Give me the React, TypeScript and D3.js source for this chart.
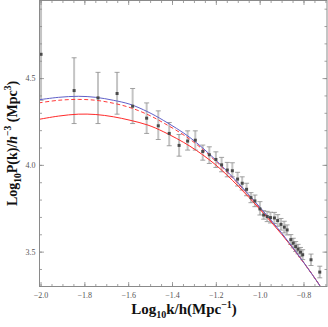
import React from 'react';
import * as d3 from 'd3';

// measured points: log10 k, log10 P, lower and upper end of the error bar
const pkX = [-2.0, -1.849, -1.74, -1.653, -1.582, -1.518, -1.465, -1.415, -1.37, -1.331, -1.296, -1.262, -1.232, -1.202, -1.176, -1.15, -1.127, -1.103, -1.082, -1.062, -1.042, -1.024, -1.001, -0.984, -0.968, -0.953, -0.935, -0.92, -0.905, -0.89, -0.877, -0.86, -0.849, -0.838, -0.827, -0.816, -0.806, -0.768, -0.728];
const pkY = [4.64, 4.431, 4.389, 4.414, 4.341, 4.272, 4.228, 4.184, 4.115, 4.14, 4.145, 4.08, 4.061, 4.034, 4.003, 3.973, 3.969, 3.921, 3.897, 3.862, 3.814, 3.795, 3.749, 3.714, 3.705, 3.699, 3.697, 3.682, 3.66, 3.644, 3.628, 3.572, 3.552, 3.532, 3.517, 3.5, 3.485, 3.456, 3.385];
const pkLo = [4.375, 4.241, 4.241, 4.295, 4.241, 4.184, 4.149, 4.113, 4.053, 4.088, 4.088, 4.03, 4.011, 3.988, 3.963, 3.934, 3.934, 3.881, 3.858, 3.825, 3.785, 3.762, 3.714, 3.69, 3.676, 3.668, 3.665, 3.649, 3.627, 3.611, 3.599, 3.544, 3.525, 3.504, 3.49, 3.474, 3.457, 3.423, 3.352];
const pkHi = [5.1, 4.62, 4.536, 4.536, 4.443, 4.36, 4.314, 4.247, 4.178, 4.199, 4.199, 4.117, 4.107, 4.078, 4.046, 4.017, 4.015, 3.96, 3.934, 3.897, 3.843, 3.829, 3.791, 3.739, 3.735, 3.73, 3.729, 3.716, 3.694, 3.678, 3.657, 3.601, 3.58, 3.561, 3.545, 3.527, 3.514, 3.489, 3.419];

// model curves
const curveX = [-2.01, -1.92, -1.83, -1.75, -1.67, -1.594, -1.512, -1.44, -1.32, -1.206, -1.1, -1.0, -0.9, -0.808, -0.724, -0.69];
const blueY = [4.378, 4.392, 4.398, 4.392, 4.375, 4.352, 4.308, 4.258, 4.16, 4.035, 3.898, 3.757, 3.607, 3.452, 3.3, 3.23];
const dashY = [4.36, 4.375, 4.38, 4.375, 4.358, 4.333, 4.292, 4.244, 4.15, 4.028, 3.893, 3.753, 3.604, 3.45, 3.3, 3.23];
const redY = [4.265, 4.284, 4.295, 4.293, 4.28, 4.26, 4.232, 4.193, 4.11, 4.006, 3.88, 3.745, 3.6, 3.452, 3.3, 3.23];

const xTicks = [-2.0, -1.8, -1.6, -1.4, -1.2, -1.0, -0.8];
const yTicks = [3.5, 4.0, 4.5];

const W = 328, H = 327;
const L = 39.5, R = 327, T = 0.5, B = 286.5;

const fmt = (v: number) => (v < 0 ? '\u2212' : '') + Math.abs(v).toFixed(1);

export default function App() {
  const x = d3.scaleLinear().domain([-2.007, -0.695]).range([L, R]);
  const y = d3.scaleLinear().domain([3.302, 4.95]).range([B, T]);

  const line = (ys: number[]) =>
    d3.line<number>()
      .x((_, i) => x(curveX[i]))
      .y((d) => y(d))
      .curve(d3.curveCatmullRom)(ys) || '';

  const xMinor = d3.range(-2.0, -0.69, 0.05).filter((v) => x(v) <= R);
  const yMinor = d3.range(3.4, 4.95, 0.1);
  const frame = '#8a8a8a';
  const serif = '"Liberation Serif", "DejaVu Serif", serif';

  return (
    <svg width={W} height={H} style={{ position: 'absolute', left: 0, top: 0 }} fontFamily={serif}>
      <defs>
        <clipPath id="plot">
          <rect x={L} y={T} width={R - L} height={B - T} />
        </clipPath>
      </defs>
      <rect x={0} y={0} width={W} height={H} fill="#fff" />

      <g clipPath="url(#plot)">
        {pkX.map((v, i) => (
          <line key={'e' + i} x1={x(v)} x2={x(v)} y1={y(pkLo[i])} y2={y(pkHi[i])} stroke="#c4c4c4" strokeWidth={2} />
        ))}
        {pkX.map((v, i) => (
          <g key={'c' + i} stroke="#8c8c8c" strokeWidth={0.8}>
            <line x1={x(v) - 2.5} x2={x(v) + 2.5} y1={y(pkLo[i])} y2={y(pkLo[i])} />
            <line x1={x(v) - 2.5} x2={x(v) + 2.5} y1={y(pkHi[i])} y2={y(pkHi[i])} />
          </g>
        ))}
        <path d={line(redY)} fill="none" stroke="#ff2a2a" strokeWidth={1} />
        <path d={line(dashY)} fill="none" stroke="#ff3a3a" strokeWidth={1} strokeDasharray="4,2.5" />
        <path d={line(blueY)} fill="none" stroke="#6060c8" strokeWidth={1} />
        {pkX.map((v, i) => (
          <rect key={'p' + i} x={x(v) - 1.5} y={y(pkY[i]) - 1.5} width={3} height={3} fill="#4a4a4a" />
        ))}
      </g>

      {/* frame and ticks */}
      <rect x={L} y={T} width={R - L} height={B - T} fill="none" stroke={frame} strokeWidth={1} />
      <g stroke={frame} strokeWidth={0.8}>
        {xTicks.map((v) => (
          <g key={'xt' + v}>
            <line x1={x(v)} x2={x(v)} y1={B} y2={B - 4.5} />
            <line x1={x(v)} x2={x(v)} y1={T} y2={T + 4.5} />
          </g>
        ))}
        {xMinor.map((v, i) => (
          <g key={'xm' + i}>
            <line x1={x(v)} x2={x(v)} y1={B} y2={B - 2.5} />
            <line x1={x(v)} x2={x(v)} y1={T} y2={T + 2.5} />
          </g>
        ))}
        {yTicks.map((v) => (
          <g key={'yt' + v}>
            <line x1={L} x2={L + 4.5} y1={y(v)} y2={y(v)} />
            <line x1={R} x2={R - 4.5} y1={y(v)} y2={y(v)} />
          </g>
        ))}
        {yMinor.map((v, i) => (
          <g key={'ym' + i}>
            <line x1={L} x2={L + 2.5} y1={y(v)} y2={y(v)} />
            <line x1={R} x2={R - 2.5} y1={y(v)} y2={y(v)} />
          </g>
        ))}
      </g>
      <g fontSize={8} fill="#555">
        {xTicks.map((v) => (
          <text key={'xl' + v} x={x(v)} y={298} textAnchor="middle">{fmt(v)}</text>
        ))}
        {yTicks.map((v) => (
          <text key={'yl' + v} x={35.5} y={y(v)} dy="0.33em" textAnchor="end">{fmt(v)}</text>
        ))}
      </g>

      <text x={184} y={314} textAnchor="middle" fontSize={15} fontWeight="bold" fill="#111">
        Log<tspan fontSize={10} dy={4}>10</tspan>
        <tspan dy={-4}>k/h(Mpc</tspan>
        <tspan fontSize={10} dy={-6}>{'\u22121'}</tspan>
        <tspan dy={6}>)</tspan>
      </text>
      <text transform={`translate(17,${(T + B) / 2}) rotate(-90)`} textAnchor="middle" fontSize={14} fontWeight="bold" fill="#111">
        Log<tspan fontSize={9.5} dy={4}>10</tspan>
        <tspan dy={-4}>P(k)/</tspan>
        <tspan fontStyle="italic">h</tspan>
        <tspan fontSize={9.5} dy={-6}>{'\u22123'}</tspan>
        <tspan dy={6}> (Mpc</tspan>
        <tspan fontSize={9.5} dy={-6}>3</tspan>
        <tspan dy={6}>)</tspan>
      </text>
    </svg>
  );
}
